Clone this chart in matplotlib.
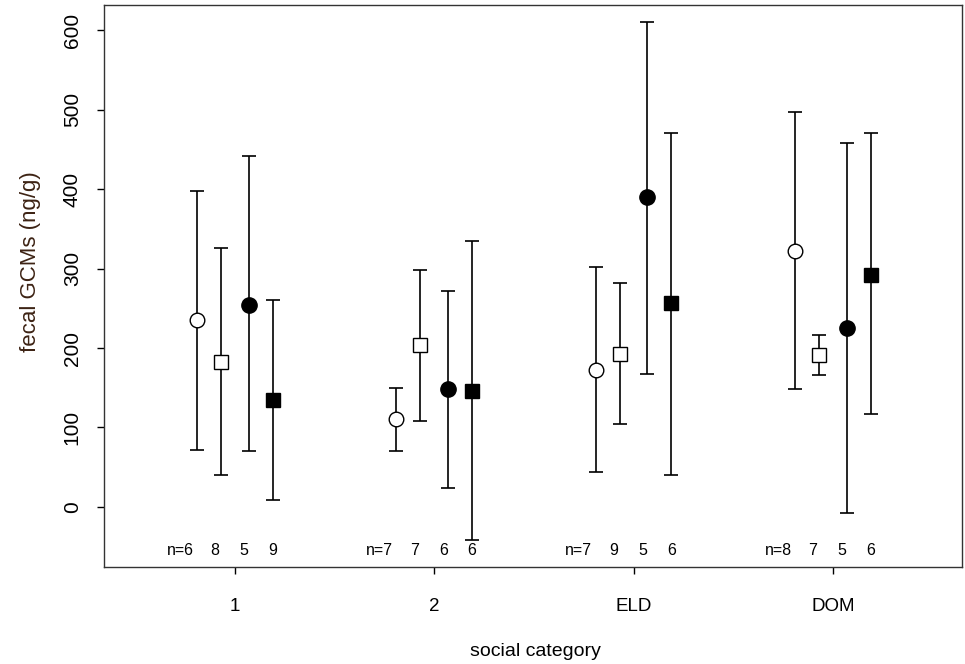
import matplotlib
matplotlib.use("Agg")
import matplotlib.pyplot as plt
import numpy as np

plt.rcParams['font.family'] = ['Liberation Sans', 'DejaVu Sans']

categories = ["1", "2", "ELD", "DOM"]
# series order: open circle, open square, filled circle, filled square
means = [
    [235, 183, 254, 135],
    [111, 204, 148, 146],
    [172, 193, 390, 256],
    [322, 191, 225, 292],
]
upper = [
    [397, 326, 441, 260],
    [150, 298, 272, 335],
    [302, 282, 610, 471],
    [497, 216, 458, 470],
]
lower = [
    [72, 40, 70, 9],
    [70, 108, 24, -42],
    [44, 104, 167, 40],
    [148, 166, -7, 117],
]
n_labels = [
    ["n=6", "8", "5", "9"],
    ["n=7", "7", "6", "6"],
    ["n=7", "9", "5", "6"],
    ["n=8", "7", "5", "6"],
]

offsets = [-0.19, -0.07, 0.07, 0.19]
label_offsets = [-0.275, -0.1, 0.045, 0.19]
markers = ['o', 's', 'o', 's']
filled = [False, False, True, True]
msizes = [10.5, 9.5, 11, 10]

fig = plt.figure(figsize=(9.65, 6.64), dpi=100)
ax = fig.add_axes([104/965, 97/664, (962-104)/965, (567-5)/664])

xs = np.arange(1, len(categories) + 1)
for g in range(len(categories)):
    for s in range(4):
        x = xs[g] + offsets[s]
        m = means[g][s]
        ax.errorbar([x], [m], yerr=[[m - lower[g][s]], [upper[g][s] - m]],
                    fmt='none', ecolor='black', elinewidth=1.2, capsize=5, capthick=1.2, zorder=2)
        ax.plot([x], [m], marker=markers[s], markersize=msizes[s],
                markerfacecolor='black' if filled[s] else 'white',
                markeredgecolor='black', markeredgewidth=1.0, linestyle='none', zorder=3)
        ax.text(xs[g] + label_offsets[s], -55, n_labels[g][s], ha='center', va='center', fontsize=11.5)

ax.set_xlim(0.343, 4.648)
ax.set_ylim(-75.5, 631.5)
ax.set_xticks(xs)
ax.set_xticklabels(categories, fontsize=13.5)
ax.set_yticks([0, 100, 200, 300, 400, 500, 600])
ax.set_yticklabels(["0", "100", "200", "300", "400", "500", "600"], fontsize=15,
                   rotation=90, va='center')
ax.tick_params(axis='x', length=5, width=1, pad=17)
ax.tick_params(axis='y', length=5, width=1, pad=11)
for sp in ax.spines.values():
    sp.set_linewidth(1.0)
    sp.set_color('#333333')

fig.text(535/965, 1 - 652/664, "social category", ha='center', va='center', fontsize=14)
fig.text(31/965, 1 - 262/664, "fecal GCMs (ng/g)", ha='center', va='center', fontsize=16,
         rotation=90, color='#3d2314')

fig.savefig("out.png", dpi=100)
